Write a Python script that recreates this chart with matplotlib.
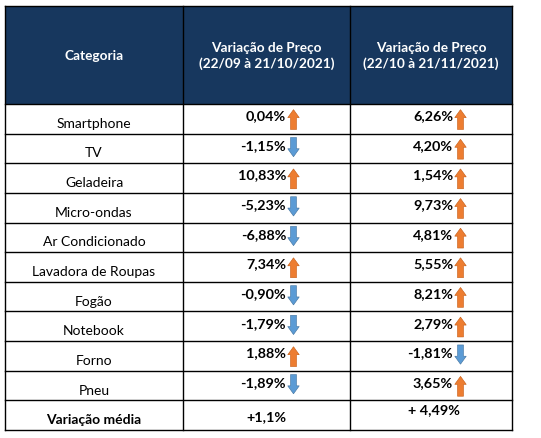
import matplotlib.pyplot as plt
from matplotlib.patches import Rectangle, FancyArrow

plt.rcParams['font.family'] = ['Lato', 'DejaVu Sans']

# dados da tabela
categorias = ['Smartphone', 'TV', 'Geladeira', 'Micro-ondas', 'Ar Condicionado',
              'Lavadora de Roupas', 'Fogão', 'Notebook', 'Forno', 'Pneu']
var_out = [0.04, -1.15, 10.83, -5.23, -6.88, 7.34, -0.90, -1.79, 1.88, -1.89]
var_nov = [6.26, 4.20, 1.54, 9.73, 4.81, 5.55, 8.21, 2.79, -1.81, 3.65]
cabecalhos = ['Categoria', 'Variação de Preço\n(22/09 à 21/10/2021)',
              'Variação de Preço\n(22/10 à 21/11/2021)']
rotulo_media = 'Variação média'
medias = ['+1,1%', '+ 4,49%']

AZUL_ESC = '#17375E'
LARANJA = '#ED7D31'
AZUL = '#5B9BD5'

fig = plt.figure(figsize=(5.41, 4.38), dpi=100)
ax = fig.add_axes([0, 0, 1, 1])
ax.set_xlim(0, 541)
ax.set_ylim(438, 0)
ax.axis('off')

xs = [5, 183, 350, 512]
topo = 6
fim_cab = 104
n_linhas = len(categorias) + 1
h = (430 - fim_cab) / n_linhas

# cabeçalho
ax.add_patch(Rectangle((xs[0], topo), xs[-1] - xs[0], fim_cab - topo,
                       facecolor=AZUL_ESC, edgecolor='none'))
for i, txt in enumerate(cabecalhos):
    ax.text((xs[i] + xs[i + 1]) / 2, (topo + fim_cab) / 2 + 1, txt, color='white',
            ha='center', va='center', fontsize=9.8, fontweight='bold', linespacing=1.25)

# linhas da grade
for x in xs:
    ax.plot([x, x], [topo, fim_cab + n_linhas * h], color='black', lw=1)
ax.plot([xs[0], xs[-1]], [topo, topo], color='black', lw=1)
for r in range(n_linhas + 1):
    y = fim_cab + r * h
    ax.plot([xs[0], xs[-1]], [y, y], color='black', lw=1)


def seta(x, y0, v):
    if v >= 0:
        ax.add_patch(FancyArrow(x, y0 + h * 0.86, 0, -h * 0.67, width=6,
                                head_width=11.5, head_length=8,
                                length_includes_head=True,
                                facecolor=LARANJA, edgecolor='#C55A11', lw=0.4))
    else:
        ax.add_patch(FancyArrow(x, y0 + h * 0.13, 0, h * 0.65, width=6,
                                head_width=11.5, head_length=8,
                                length_includes_head=True,
                                facecolor=AZUL, edgecolor='#41719C', lw=0.4))


def fmt(v):
    return f'{v:.2f}'.replace('.', ',') + '%'


for r, cat in enumerate(categorias):
    y0 = fim_cab + r * h
    ax.text((xs[0] + xs[1]) / 2, y0 + h * 0.67, cat, ha='center', va='center',
            fontsize=10)
    for c, serie in enumerate([var_out, var_nov]):
        v = serie[r]
        xl = xs[c + 1]
        ax.text(xl + 103, y0 + h * 0.41, fmt(v), ha='right', va='center',
                fontsize=10.4, fontweight='bold')
        seta(xl + 110.5, y0, v)

# linha da média
y0 = fim_cab + len(categorias) * h
ax.text((xs[0] + xs[1]) / 2, y0 + h * 0.67, rotulo_media, ha='center',
        va='center', fontsize=10, fontweight='bold')
ax.text((xs[1] + xs[2]) / 2, y0 + h * 0.56, medias[0], ha='center', va='center',
        fontsize=10.4, fontweight='bold')
ax.text((xs[2] + xs[3]) / 2 + 3, y0 + h * 0.33, medias[1], ha='center',
        va='center', fontsize=10.4, fontweight='bold')

fig.savefig('out.png', dpi=100, facecolor='white')
